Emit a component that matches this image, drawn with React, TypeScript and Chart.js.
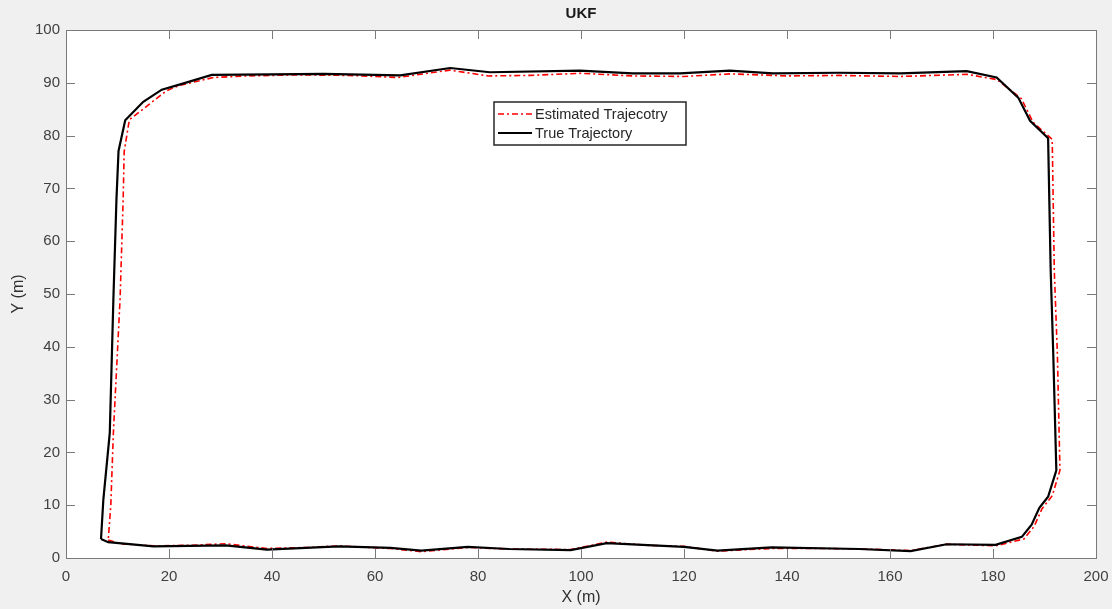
import React, { useEffect, useRef } from "react";
import { Chart, registerables } from "chart.js";

Chart.register(...registerables);

const chartTitle = "UKF";
const xTitle = "X (m)";
const yTitle = "Y (m)";
const estLabel = "Estimated Trajecotry";
const trueLabel = "True Trajectory";

const xTickMin = 0;
const xTickMax = 200;
const xTickStep = 20;
const yTickMin = 0;
const yTickMax = 100;
const yTickStep = 10;

// True trajectory (black)
const trueX = [
  6.8, 8.2, 17, 31, 39, 53, 63, 69, 78, 86, 98, 105, 120, 126.5, 137, 154, 164, 171, 180.5,
  185.6, 187.5, 189, 190.7, 192.3, 191.7, 191.2, 190.7,
  187.2, 184.9, 180.7, 174.9, 162, 150, 137.3, 128.9, 119.2, 110, 99.8, 82.3, 74.6, 64.9,
  50, 40, 28.3, 22.5, 18.6, 15, 11.5, 10.2, 9.8, 9.2, 8.5, 7.25, 6.8,
];
const trueY = [
  3.6, 3.0, 2.2, 2.4, 1.6, 2.2, 1.9, 1.4, 2.1, 1.7, 1.5, 2.8, 2.1, 1.4, 2.0, 1.7, 1.3, 2.6, 2.5,
  4.0, 6.3, 9.5, 11.6, 16.6, 38.7, 54.5, 79.5,
  82.8, 87.2, 91, 92.2, 91.8, 91.9, 91.8, 92.3, 91.8, 91.8, 92.3, 92.0, 92.8, 91.4,
  91.7, 91.6, 91.5, 89.8, 88.7, 86.4, 82.9, 77.1, 68, 49, 23.7, 11, 3.6,
];

// Estimated trajectory (red)
const estX = [
  8.2, 10.5, 17, 24, 31, 39, 47, 53, 63, 69, 78, 86, 98, 105, 113, 120, 126.5, 137, 147, 155,
  164, 171, 180.5, 186, 188, 189.5, 191.5, 193, 192.5, 191.9, 191.5,
  187.8, 185.5, 180.8, 175, 162, 150, 140, 129, 120, 110, 100, 90, 82, 74.5, 64.5, 55, 45,
  35, 28.6, 22, 19.5, 16, 12.3, 11.3, 11.1, 10.5, 9.2, 8.7, 8.2,
];
const estY = [
  3.4, 2.7, 2.3, 2.4, 2.7, 1.8, 2.0, 2.3, 1.8, 1.2, 2.0, 1.7, 1.6, 3.0, 2.4, 2.2, 1.3, 1.8, 1.8, 1.7,
  1.4, 2.6, 2.3, 3.6, 6.0, 9.3, 11.8, 16.6, 38.7, 54.5, 79.3,
  82.5, 87, 90.6, 91.6, 91.2, 91.4, 91.3, 91.7, 91.2, 91.3, 91.8, 91.4, 91.3, 92.4, 91.0, 91.4, 91.5,
  91.3, 91.0, 89.5, 88.5, 85.8, 83, 77, 68, 49, 23.7, 10, 3.4,
];

const FONT = "'Liberation Sans', Arial, Helvetica, sans-serif";
const TEXT = "#303030";
const BOX = "#7a7a7a";

const toPoints = (xs: number[], ys: number[]) => xs.map((x, i) => ({ x, y: ys[i] }));

const matlabPlugin = {
  id: "matlabFrame",
  beforeDraw(chart: any) {
    const { ctx, chartArea: a, width, height } = chart;
    ctx.save();
    ctx.fillStyle = "#f0f0f0";
    ctx.fillRect(0, 0, width, height);
    ctx.fillStyle = "#ffffff";
    ctx.fillRect(a.left, a.top, a.right - a.left, a.bottom - a.top);
    ctx.restore();
  },
  afterDraw(chart: any) {
    const { ctx, chartArea: a, scales } = chart;
    const xs = scales.x;
    const ys = scales.y;
    const tl = 9;
    ctx.save();
    ctx.strokeStyle = BOX;
    ctx.lineWidth = 1;
    ctx.strokeRect(Math.round(a.left) + 0.5, Math.round(a.top) + 0.5, Math.round(a.right - a.left), Math.round(a.bottom - a.top));
    ctx.beginPath();
    for (let v = xTickMin; v <= xTickMax; v += xTickStep) {
      const px = Math.round(xs.getPixelForValue(v)) + 0.5;
      ctx.moveTo(px, a.bottom);
      ctx.lineTo(px, a.bottom - tl);
      ctx.moveTo(px, a.top);
      ctx.lineTo(px, a.top + tl);
    }
    for (let v = yTickMin; v <= yTickMax; v += yTickStep) {
      const py = Math.round(ys.getPixelForValue(v)) + 0.5;
      ctx.moveTo(a.left, py);
      ctx.lineTo(a.left + tl, py);
      ctx.moveTo(a.right, py);
      ctx.lineTo(a.right - tl, py);
    }
    ctx.stroke();

    // Titles
    const cx = (a.left + a.right) / 2;
    ctx.fillStyle = "#1a1a1a";
    ctx.textAlign = "center";
    ctx.textBaseline = "middle";
    ctx.font = `bold 15px ${FONT}`;
    ctx.fillText(chartTitle, cx, 14);
    ctx.fillStyle = TEXT;
    ctx.font = `16px ${FONT}`;
    ctx.fillText(xTitle, cx, 598);
    ctx.save();
    ctx.translate(19, (a.top + a.bottom) / 2);
    ctx.rotate(-Math.PI / 2);
    ctx.fillText(yTitle, 0, 0);
    ctx.restore();

    // Legend
    const lx = 494, ly = 102, lw = 192, lh = 43;
    ctx.fillStyle = "#ffffff";
    ctx.fillRect(lx, ly, lw, lh);
    ctx.strokeStyle = "#262626";
    ctx.lineWidth = 1.5;
    ctx.strokeRect(lx, ly, lw, lh);
    const ds = chart.data.datasets;
    const rows = [ds[0], ds[1]];
    rows.forEach((d: any, i: number) => {
      const y = ly + 12 + i * 19;
      ctx.save();
      ctx.strokeStyle = d.borderColor;
      ctx.lineWidth = d.borderWidth;
      ctx.setLineDash(d.borderDash || []);
      ctx.beginPath();
      ctx.moveTo(lx + 4, y);
      ctx.lineTo(lx + 38, y);
      ctx.stroke();
      ctx.restore();
      ctx.fillStyle = "#262626";
      ctx.textAlign = "left";
      ctx.font = `14.5px ${FONT}`;
      ctx.fillText(d.label, lx + 41, y + 1);
    });
    ctx.restore();
  },
};

export default function App() {
  const canvasRef = useRef<HTMLCanvasElement | null>(null);

  useEffect(() => {
    document.body.style.margin = "0";
    const canvas = canvasRef.current;
    if (!canvas) return;
    const chart = new Chart(canvas, {
      type: "line",
      data: {
        datasets: [
          {
            label: estLabel,
            data: toPoints(estX, estY),
            borderColor: "#ff0000",
            borderWidth: 1.6,
            borderDash: [6, 3, 2, 3],
            pointRadius: 0,
            fill: false,
            tension: 0,
            order: 1,
          },
          {
            label: trueLabel,
            data: toPoints(trueX, trueY),
            borderColor: "#000000",
            borderWidth: 2.2,
            pointRadius: 0,
            fill: false,
            tension: 0,
            order: 0,
          },
        ],
      },
      options: {
        responsive: false,
        animation: false,
        events: [],
        layout: { padding: { top: 30, right: 16, left: 0, bottom: 0 } },
        plugins: {
          legend: { display: false },
          title: { display: false },
          tooltip: { enabled: false },
        },
        scales: {
          x: {
            type: "linear",
            min: xTickMin,
            max: xTickMax,
            grid: { display: false, drawTicks: false },
            border: { display: false },
            ticks: {
              stepSize: xTickStep,
              color: "#404040",
              padding: 10,
              maxRotation: 0,
              font: { family: FONT, size: 15 },
            },
            afterFit: (s: any) => {
              s.height = 51;
              s.paddingRight = 0;
              s.paddingLeft = 0;
            },
          },
          y: {
            type: "linear",
            min: yTickMin,
            max: yTickMax,
            grid: { display: false, drawTicks: false },
            border: { display: false },
            ticks: {
              stepSize: yTickStep,
              color: "#404040",
              padding: 6,
              font: { family: FONT, size: 15 },
            },
            afterFit: (s: any) => {
              s.width = 66;
              s.paddingTop = 0;
              s.paddingBottom = 0;
            },
          },
        },
      },
      plugins: [matlabPlugin],
    });
    return () => chart.destroy();
  }, []);

  return (
    <div style={{ width: 1112, height: 609 }}>
      <canvas ref={canvasRef} width={1112} height={609} />
    </div>
  );
}
